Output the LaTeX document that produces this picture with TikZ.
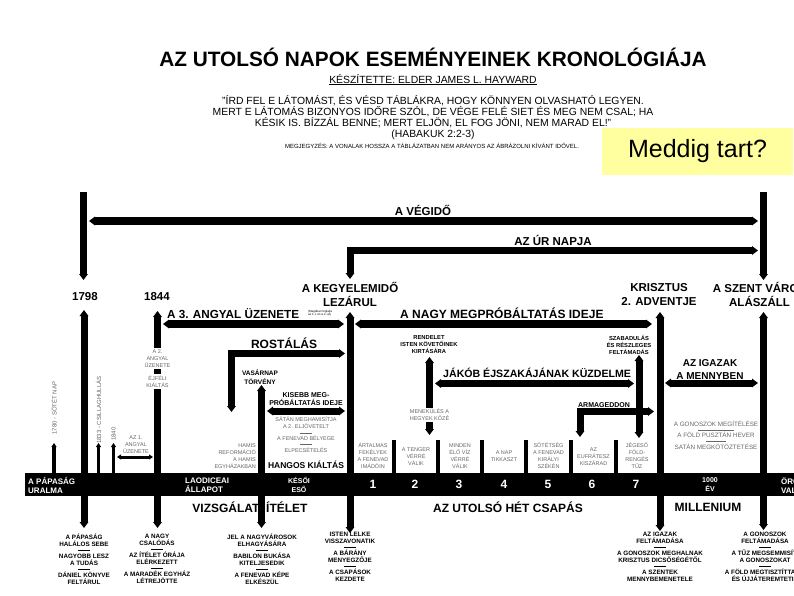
\documentclass[tikz,border=0pt]{standalone}
\usepackage{fontspec}
\setmainfont{Liberation Sans}
\usetikzlibrary{arrows.meta}
\definecolor{notepad}{RGB}{255,255,160}
\newcommand\sepl[1][12pt]{\\[-0.5pt]\rule[2.5pt]{#1}{0.4pt}\\[-1.8pt]}

\begin{document}
\begin{tikzpicture}[
    x=1pt, y=-1pt,
    >={Triangle[length=6pt, width=8.5pt]},
    bar/.style={line width=7pt, line join=miter},
    thinbar/.style={line width=3.5pt, >={Triangle[length=4pt, width=5pt]}},
    lbl/.style={font=\bfseries\fontsize{11.5}{14}\selectfont, inner sep=0pt, align=center},
    bignote/.style={font=\bfseries\fontsize{12}{14}\selectfont, inner sep=0pt},
    evtxt/.style={font=\bfseries\fontsize{6.3}{7}\selectfont, inner sep=0pt, align=center},
    greytxt/.style={font=\fontsize{5.5}{7}\selectfont, text=black!60, inner sep=0pt, align=center},
    bandtxt/.style={font=\bfseries\fontsize{8}{9}\selectfont, text=white, inner sep=0pt, align=left},
    plague/.style={font=\bfseries\fontsize{12}{12}\selectfont, text=white, inner sep=0pt},
    qtxt/.style={font=\fontsize{10.4}{11}\selectfont, inner sep=0pt, align=center}
  ]
  \useasboundingbox (0,0) rectangle (794,595);
  \clip (0,0) rectangle (794,595);

  % heading
  \node[font=\bfseries\fontsize{20.8}{24}\selectfont, anchor=base, inner sep=0pt] (title) at (433,66) {AZ UTOLSÓ NAPOK ESEMÉNYEINEK KRONOLÓGIÁJA};
  \node[qtxt, anchor=base] (author) at (433,83) {\underline{KÉSZÍTETTE: ELDER JAMES L. HAYWARD}};
  \node[qtxt, anchor=north] (verse) at (433,95) {"ÍRD FEL E LÁTOMÁST, ÉS VÉSD TÁBLÁKRA, HOGY KÖNNYEN OLVASHATÓ LEGYEN.\\MERT E LÁTOMÁS BIZONYOS IDŐRE SZÓL, DE VÉGE FELÉ SIET ÉS MEG NEM CSAL; HA\\KÉSIK IS. BÍZZÁL BENNE; MERT ELJÖN, EL FOG JÖNI, NEM MARAD EL!"\\(HABAKUK 2:2-3)};
  \node[font=\fontsize{6}{7}\selectfont, anchor=base, inner sep=0pt] (remark) at (432,148) {MEGJEGYZÉS: A VONALAK HOSSZA A TÁBLÁZATBAN NEM ARÁNYOS AZ ÁBRÁZOLNI KÍVÁNT IDŐVEL.};
  \node[fill=notepad, minimum width=191, minimum height=47, font=\fontsize{25}{28}\selectfont] (howlong) at (697.5,151.5) {Meddig tart?};

  % top span
  \draw[bar,->] (83.5,192) -- (83.5,280);
  \draw[bar,->] (763.5,192) -- (763.5,280);
  \draw[bar,line width=8pt,<->] (89,221) -- (758,221);
  \node[lbl, anchor=base] (endtime) at (423,215) {A VÉGIDŐ};
  \draw[bar,<->] (350,279) |- (758,250.5);
  \node[lbl, anchor=base] (lordsday) at (553,245) {AZ ÚR NAPJA};

  % milestones
  \node[lbl] (y1798) at (85,297) {1798};
  \node[lbl] (y1844) at (157,297) {1844};
  \node[lbl] (grace) at (350,294.5) {A KEGYELEMIDŐ\\LEZÁRUL};
  \node[lbl] (advent) at (659,294.5) {KRISZTUS\\2. ADVENTJE};
  \node[lbl] (city) at (759.5,294.5) {A SZENT VÁROS\\ALÁSZÁLL};
  \draw[bar,<->] (84,310) -- (84,528);
  \draw[bar,<->] (157.5,311) -- (157.5,528);
  \draw[bar,<->] (350,312) -- (350,533);
  \draw[bar,<->] (660,312) -- (660,531);
  \draw[bar,<->] (763.5,312) -- (763.5,530);
  \draw[bar,<->] (261.5,385) -- (261.5,528);

  % messages and trouble
  \draw[bar,line width=8pt,<->] (163,324) -- (344,324);
  \node[bignote, font=\bfseries\fontsize{11.7}{14}\selectfont, anchor=base west] (angel3) at (167,318) {A 3. ANGYAL ÜZENETE};
  \node[font=\fontsize{3}{3.5}\selectfont, anchor=west, inner sep=0pt, align=left] (incl) at (308,313) {(Magában foglalja\\az 1.-t és a 2.-at)};
  \draw[bar,line width=8pt,<->] (355,324) -- (652,324);
  \node[bignote, anchor=base west] (trouble) at (400,318) {A NAGY MEGPRÓBÁLTATÁS IDEJE};

  \draw[bar,<->] (231.5,412) |- (345,353.5);
  \node[bignote, anchor=base] (sifting) at (284,348) {ROSTÁLÁS};
  \node[evtxt, font=\bfseries\fontsize{6.5}{9}\selectfont] (sunday) at (260,377) {VASÁRNAP\\TÖRVÉNY};
  \draw[bar,<->] (267,411) -- (345,411);
  \node[evtxt, font=\bfseries\fontsize{7}{8}\selectfont, anchor=south] (minor) at (306,406) {KISEBB MEG-\\PRÓBÁLTATÁS IDEJE};
  \node[greytxt, anchor=north] (fake) at (306,417) {SÁTÁN MEGHAMISÍTJA\\A 2. ELJÖVETELT\sepl A FENEVAD BÉLYEGE\sepl ELPECSÉTELÉS};
  \node[evtxt, font=\bfseries\fontsize{8.5}{10}\selectfont] (cry) at (306,465) {HANGOS KIÁLTÁS};
  \node[greytxt, align=right, anchor=east] (reform) at (256,456) {HAMIS\\REFORMÁCIÓ\\A HAMIS\\EGYHÁZAKBAN};

  % early signs
  \draw[thinbar,->] (54,473) -- (54,443);
  \node[greytxt, font=\fontsize{6}{7}\selectfont, rotate=90] (darkday) at (54,408) {1780 - SÖTÉT NAP};
  \draw[thinbar,->] (98.5,473) -- (98.5,443);
  \node[greytxt, font=\fontsize{6}{7}\selectfont, rotate=90] (stars) at (98.5,410) {1833 - CSILLAGHULLÁS};
  \draw[thinbar,->] (113.5,473) -- (113.5,443);
  \node[greytxt, font=\fontsize{6}{7}\selectfont, rotate=90] (y1840) at (113.5,434) {1840};
  \draw[line width=3pt, {Triangle[length=4pt,width=5pt]}-{Triangle[length=4pt,width=5pt]}] (117,457) -- (153,457);
  \node[greytxt] (angel1) at (136,445) {AZ 1.\\ANGYAL\\ÜZENETE};
  \node[greytxt, fill=white, inner sep=1.2pt] (angel2) at (157.5,358.5) {A 2.\\ANGYAL\\ÜZENETE};
  \node[greytxt, fill=white, inner sep=1.2pt] (midnight) at (157.5,381.5) {ÉJFÉLI\\KIÁLTÁS};

  % decree and deliverance
  \node[evtxt, font=\bfseries\fontsize{5.8}{7}\selectfont] (decree) at (429,345) {RENDELET\\ISTEN KÖVETŐINEK\\KIRTÁSÁRA};
  \draw[bar,<->] (429.5,357) -- (429.5,435);
  \node[greytxt, fill=white, inner sep=1.2pt] (flee) at (429.5,415) {MENEKÜLÉS A\\HEGYEK KÖZÉ};
  \draw[bar,<->] (435,383.5) -- (634,383.5);
  \node[bignote, font=\bfseries\fontsize{10.6}{14}\selectfont, anchor=base west] (jacob) at (443,377) {JÁKÓB ÉJSZAKÁJÁNAK KÜZDELME};
  \node[evtxt, font=\bfseries\fontsize{5.8}{7}\selectfont] (rescue) at (629,345) {SZABADULÁS\\ÉS RÉSZLEGES\\FELTÁMADÁS};
  \draw[bar,<->] (639,355) -- (639,438);
  \draw[bar,<->] (580,437) |- (654,411.5);
  \node[evtxt, font=\bfseries\fontsize{7}{8}\selectfont, anchor=base] (armageddon) at (604,407) {ARMAGEDDON};
  \draw[bar,<->] (665,383) -- (758,383);
  \node[lbl, font=\bfseries\fontsize{10}{13}\selectfont] (heaven) at (710,369) {AZ IGAZAK\\A MENNYBEN};
  \node[greytxt, font=\fontsize{6.3}{7}\selectfont] (judge) at (716,435) {A GONOSZOK MEGÍTÉLÉSE\sepl[36pt] A FÖLD PUSZTÁN HEVER\sepl[20pt] SATÁN MEGKÖTÖZTETÉSE};

  % seven plagues
  \foreach \x in {394,438,482,526,571,616}
    \draw[line width=4pt] (\x,440) -- (\x,473);
  \node[greytxt] (p1) at (373,456) {ÁRTALMAS\\FEKÉLYEK\\A FENEVAD\\IMÁDÓIN};
  \node[greytxt] (p2) at (416,457) {A TENGER\\VÉRRÉ\\VÁLIK};
  \node[greytxt] (p3) at (460,456) {MINDEN\\ÉLŐ VÍZ\\VÉRRÉ\\VÁLIK};
  \node[greytxt] (p4) at (504,456) {A NAP\\TIKKASZT};
  \node[greytxt] (p5) at (548.5,456) {SÖTÉTSÉG\\A FENEVAD\\KIRÁLYI\\SZÉKÉN};
  \node[greytxt] (p6) at (593.5,457) {AZ\\EUFRÁTESZ\\KISZÁRAD};
  \node[greytxt] (p7) at (637,456) {JÉGESŐ\\FÖLD-\\RENGÉS\\TŰZ};

  % era band
  \fill (25,472.5) rectangle (800,495.5);
  \node[bandtxt, anchor=west] (papacy) at (28,485) {A PÁPASÁG\\URALMA};
  \node[bandtxt, anchor=west] (laodicea) at (185,485) {LAODICEAI\\ÁLLAPOT};
  \node[bandtxt, font=\bfseries\fontsize{7}{8.5}\selectfont, align=center] (rain) at (299,485) {KÉSŐI\\ESŐ};
  \foreach \n/\x in {1/373,2/415,3/459,4/504,5/548,6/592,7/636}
    \node[plague] (n\n) at (\x,484.5) {\n};
  \node[bandtxt, font=\bfseries\fontsize{7}{8.5}\selectfont, align=center] (thousand) at (710,484.5) {1000\\ÉV};
  \node[bandtxt, anchor=west] (eternity) at (781,485) {ÖRÖKKÉ-\\VALÓSÁG};

  \node[bignote] (judgment) at (250,507) {VIZSGÁLATI ÍTÉLET};
  \node[bignote] (plagues) at (508,507) {AZ UTOLSÓ HÉT CSAPÁS};
  \node[bignote] (millennium) at (708,507) {MILLENIUM};

  % events below
  \node[evtxt, anchor=north] (b1798) at (84,534) {A PÁPASÁG\\HALÁLOS SEBE\sepl NAGYOBB LESZ\\A TUDÁS\sepl DÁNIEL KÖNYVE\\FELTÁRUL};
  \node[evtxt, anchor=north] (b1844) at (157,534) {A NAGY\\CSALÓDÁS\sepl AZ ÍTÉLET ÓRÁJA\\ELÉRKEZETT\sepl A MARADÉK EGYHÁZ\\LÉTREJÖTTE};
  \node[evtxt, anchor=north] (bsunday) at (262,534) {JEL A NAGYVÁROSOK\\ELHAGYÁSÁRA\sepl BABILON BUKÁSA\\KITELJESEDIK\sepl A FENEVAD KÉPE\\ELKÉSZÜL};
  \node[evtxt, anchor=north] (bgrace) at (350,532) {ISTEN LELKE\\VISSZAVONATIK\sepl A BÁRÁNY\\MENYEGZŐJE\sepl A CSAPÁSOK\\KEZDETE};
  \node[evtxt, anchor=north] (badvent) at (660,532) {AZ IGAZAK\\FELTÁMADÁSA\sepl A GONOSZOK MEGHALNAK\\KRISZTUS DICSŐSÉGÉTŐL\sepl A SZENTEK\\MENNYBEMENETELE};
  \node[evtxt, anchor=north] (bcity) at (765,532) {A GONOSZOK\\FELTÁMADÁSA\sepl A TŰZ MEGSEMMISÍTI\\A GONOSZOKAT\sepl A FÖLD MEGTISZTÍTTATIK\\ÉS ÚJJÁTEREMTETIK};
\end{tikzpicture}
\end{document}
